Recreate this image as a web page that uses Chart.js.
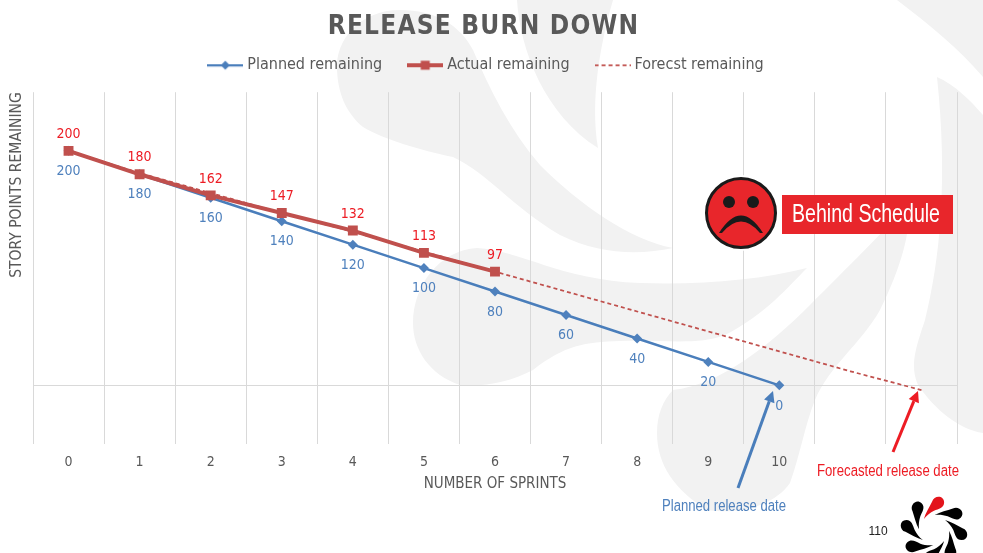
<!DOCTYPE html>
<html><head><meta charset="utf-8">
<style>html,body{margin:0;padding:0;background:#fff;overflow:hidden}canvas{display:block}</style>
<script src="https://cdn.jsdelivr.net/npm/chart.js@4"></script>
</head><body><canvas id="c" width="983" height="553"></canvas>
<script>
const categories = ['0','1','2','3','4','5','6','7','8','9','10','',''];
const plannedRemaining = [200,180,160,140,120,100,80,60,40,20,0,null,null];
const actualRemaining = [200,180,162,147,132,113,97,null,null,null,null,null,null];
const forecastRemaining = [200,181,164,147,131,114,97,80,63,46,29,12,-4];
const BLUE='#4a7ebb', MARK='#4f81bd', BROWN='#c0504d', RED='#ed1c24', TEXT='#595959';
const FONT='"DejaVu Sans Condensed","DejaVu Sans",sans-serif';
const wash=[
 'M337,70 C335,40 360,10 400,10 C435,10 460,25 473,50 C490,90 510,130 540,165 C580,205 630,240 673,248 C640,255 600,255 560,235 C510,205 490,175 453,157 C420,150 385,140 363,127 C345,112 338,92 337,70 Z',
 'M517,0 C520,50 545,115 598,148 C590,100 600,45 613,0 Z',
 'M413,323 C413,285 440,250 477,248 C520,250 560,280 640,283 C700,285 760,280 807,268 C790,285 765,315 725,335 C700,345 670,340 620,341 C585,342 565,345 533,370 C510,382 485,387 460,385 C430,375 413,350 413,323 Z',
 'M657,433 C657,415 663,400 673,390 C720,385 770,345 810,305 C850,265 880,235 908,205 C912,230 900,270 880,310 C860,345 830,365 815,400 C805,425 800,455 790,483 C775,505 740,515 707,510 C675,490 657,465 657,433 Z',
 'M897,0 C930,25 960,50 983,77 L983,0 Z',
 'M937,77 C955,85 970,100 983,115 L983,433 C960,430 935,410 918,385 C910,365 915,350 925,320 C940,260 948,180 937,77 Z'
];
const drop='M-11,-12 C-9,-19 -5,-25 -2,-31 C0,-38 11,-38 11,-30 C11,-24 5,-23 0,-21 C-4,-19 -8,-16 -11,-12 Z';
function shifted(box,sp,dx){const o=box.draw.bind(box);box.draw=function(){const x=box.ctx;x.save();x.letterSpacing=sp;x.translate(dx,0);o();x.restore();};}
const backdrop={id:'backdrop',
 beforeLayout(ch){if(!ch.$shifted){ch.$shifted=1;shifted(ch.titleBlock,'1.2px',5);shifted(ch.legend,'0px',9);
   const f=ch.legend.fit.bind(ch.legend);ch.legend.fit=function(){f();ch.legend.height=64;};}},
 beforeDraw(ch){const x=ch.ctx;x.save();x.fillStyle='#f2f2f2';wash.forEach(p=>x.fill(new Path2D(p)));x.restore();}};
function arrow(x,x0,y0,x1,y1,col){const a=Math.atan2(y1-y0,x1-x0),L=11,W=5.5,bx=x1-L*Math.cos(a),by=y1-L*Math.sin(a);
 x.strokeStyle=col;x.lineWidth=3;x.beginPath();x.moveTo(x0,y0);x.lineTo(bx,by);x.stroke();
 x.fillStyle=col;x.beginPath();x.moveTo(x1,y1);x.lineTo(bx-W*Math.sin(a),by+W*Math.cos(a));x.lineTo(bx+W*Math.sin(a),by-W*Math.cos(a));x.closePath();x.fill();}
const overlay={id:'overlay',afterDatasetsDraw(ch){const x=ch.ctx;x.save();
 x.textAlign='center';x.textBaseline='middle';x.font='14px '+FONT;
 const mp=ch.getDatasetMeta(0).data, ma=ch.getDatasetMeta(1).data;
 x.fillStyle=MARK;plannedRemaining.forEach((v,i)=>{if(v!==null)x.fillText(String(v),mp[i].x,mp[i].y+20.5);});
 x.fillStyle=RED;actualRemaining.forEach((v,i)=>{if(v!==null)x.fillText(String(v),ma[i].x,ma[i].y-16.5);});
 x.fillStyle='#fff';x.beginPath();x.arc(741,213,38,0,7);x.fill();
 x.fillStyle='#e8262b';x.strokeStyle='#1a1a1a';x.lineWidth=3;x.beginPath();x.arc(741,213,34.5,0,7);x.fill();x.stroke();
 x.fillStyle='#1a1a1a';[729,753].forEach(e=>{x.beginPath();x.arc(e,202,6,0,7);x.fill();});
 x.beginPath();x.moveTo(719,233);x.quadraticCurveTo(741,198,763,233);x.lineTo(760,233);x.quadraticCurveTo(741,210,722,233);x.closePath();x.fill();
 x.fillStyle='#e8262b';x.fillRect(782,195,171,39);
 x.fillStyle='#fff';x.font='25px "Liberation Sans",Arial,sans-serif';x.fillText('Behind Schedule',866,215,148);
 arrow(x,738,488,773,391,BLUE);arrow(x,893,452,918,391,RED);
 x.font='16px "Liberation Sans",Arial,sans-serif';
 x.fillStyle=MARK;x.fillText('Planned release date',724,507,124);
 x.fillStyle=RED;x.fillText('Forecasted release date',888,472,142);
 x.fillStyle='#222';x.font='12px "Liberation Sans",Arial,sans-serif';x.fillText('110',878,532);
 const p=new Path2D(drop);x.translate(934,530);x.scale(.92,.92);
 for(let i=0;i<8;i++){x.fillStyle=i===0?'#e3141b':'#000';x.fill(p);x.rotate(Math.PI/4);}
 x.restore();}};
function swatch(col,w,dash,mark){const c=document.createElement('canvas');c.width=36;c.height=14;const x=c.getContext('2d');
 x.strokeStyle=col;x.lineWidth=w;x.setLineDash(dash);x.beginPath();x.moveTo(0,7);x.lineTo(36,7);x.stroke();x.fillStyle=col;
 if(mark==='d'){x.beginPath();x.moveTo(18,2.5);x.lineTo(22.5,7);x.lineTo(18,11.5);x.lineTo(13.5,7);x.closePath();x.fill();}
 if(mark==='s'){x.fillRect(13.5,2.5,9,9);}
 return c;}
const swatches=[swatch(BLUE,2.25,[],'d'),swatch(BROWN,4,[],'s'),swatch(BROWN,1.75,[4,3],null)];
new Chart(document.getElementById('c'),{type:'line',
 data:{labels:categories,datasets:[
  {label:'Planned remaining',data:plannedRemaining,borderColor:BLUE,backgroundColor:MARK,borderWidth:2.5,pointStyle:'rectRot',pointRadius:5,pointBorderWidth:0,order:2,tension:0},
  {label:'Actual remaining',data:actualRemaining,borderColor:BROWN,backgroundColor:BROWN,borderWidth:4,pointStyle:'rect',pointRadius:7,pointBorderWidth:0,order:0,tension:0},
  {label:'Forecst remaining',data:forecastRemaining,borderColor:BROWN,backgroundColor:BROWN,borderWidth:1.75,borderDash:[4,3],pointRadius:0,order:1,tension:0}
 ]},
 options:{responsive:false,animation:false,
  layout:{padding:{left:0,right:26,top:0,bottom:0}},
  plugins:{tooltip:{enabled:false},
   title:{display:true,text:'RELEASE BURN DOWN',color:TEXT,font:{family:FONT,size:26,weight:'bold'},padding:{top:12,bottom:-15}},
   legend:{display:true,position:'top',labels:{usePointStyle:true,pointStyleWidth:28,padding:29,color:TEXT,font:{family:FONT,size:16},
    generateLabels(ch){return ch.data.datasets.map((d,i)=>({text:d.label,pointStyle:swatches[i],fontColor:TEXT,datasetIndex:i,lineWidth:0,strokeStyle:'transparent',fillStyle:'transparent',hidden:false,rotation:0}));}}}},
  scales:{
   x:{offset:true,grid:{offset:true,color:'#d9d9d9',lineWidth:1,drawTicks:false},border:{display:false},
    ticks:{color:TEXT,font:{family:FONT,size:14},padding:10,maxRotation:0,autoSkip:false},
    title:{display:true,text:'NUMBER OF SPRINTS',color:TEXT,font:{family:FONT,size:15},padding:{top:4,bottom:60}},
    afterFit(s){s.height=109;}},
   y:{min:-50,max:250,grid:{color:c=>c.tick.value===0?'#d9d9d9':'transparent',lineWidth:1,drawTicks:false},border:{display:false},
    ticks:{display:false,stepSize:50},
    title:{display:true,text:'STORY POINTS REMAINING',align:'end',color:TEXT,font:{family:FONT,size:15.5},padding:{top:8,bottom:0}},
    afterFit(s){s.width=33;}}
  }},
 plugins:[backdrop,overlay]});
</script></body></html>
